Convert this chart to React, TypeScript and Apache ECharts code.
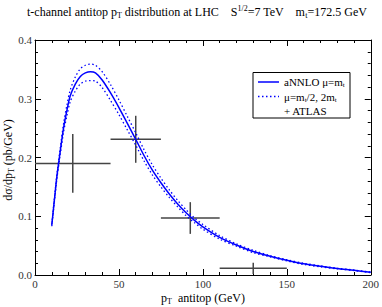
import React, { useEffect, useRef } from "react";
import * as echarts from "echarts";

// aNNLO central curve (pT in GeV, dσ/dpT in pb/GeV)
const ptGrid = [10, 12, 13, 15, 17, 19, 21, 24, 27, 30, 33, 36, 40, 45, 50, 55, 60, 65, 70, 75, 80, 85, 90, 95, 100, 110, 120, 130, 140, 150, 160, 170, 180, 190, 200];
const central = [0.085, 0.14, 0.167, 0.21, 0.25, 0.28, 0.305, 0.325, 0.338, 0.344, 0.346, 0.344, 0.332, 0.31, 0.285, 0.258, 0.231, 0.203, 0.178, 0.157, 0.138, 0.121, 0.106, 0.093, 0.082, 0.064, 0.051, 0.04, 0.032, 0.025, 0.019, 0.015, 0.011, 0.008, 0.0045];
const upper = [0.087, 0.143, 0.17, 0.215, 0.257, 0.289, 0.315, 0.337, 0.351, 0.357, 0.359, 0.357, 0.346, 0.324, 0.298, 0.27, 0.242, 0.213, 0.187, 0.165, 0.145, 0.127, 0.111, 0.097, 0.086, 0.067, 0.053, 0.042, 0.033, 0.026, 0.02, 0.0155, 0.0115, 0.0085, 0.005];
const lower = [0.083, 0.137, 0.163, 0.204, 0.243, 0.271, 0.295, 0.313, 0.325, 0.33, 0.331, 0.33, 0.319, 0.297, 0.273, 0.247, 0.221, 0.194, 0.17, 0.15, 0.132, 0.116, 0.101, 0.089, 0.078, 0.061, 0.049, 0.038, 0.031, 0.024, 0.018, 0.014, 0.0105, 0.0075, 0.004];

// ATLAS data
const atlasPt = [22.5, 60, 92.5, 130];
const atlasVal = [0.19, 0.231, 0.097, 0.0113];
const atlasBinLo = [0, 45, 75, 110];
const atlasBinHi = [45, 75, 110, 150];
const atlasErr = [0.05, 0.04, 0.027, 0.0097];

const FONT = "Liberation Serif";

export default function App() {
  const ref = useRef<HTMLDivElement>(null);
  useEffect(() => {
    if (!ref.current) return;
    const chart = echarts.init(ref.current, undefined, { renderer: "svg" });
    const pair = (ys: number[]) => ptGrid.map((x, i) => [x, ys[i]]);
    const atlasData = atlasPt.map((x, i) => [x, atlasVal[i], atlasBinLo[i], atlasBinHi[i], atlasVal[i] - atlasErr[i], atlasVal[i] + atlasErr[i]]);

    const axisCommon = {
      type: "value" as const,
      axisLine: { show: true, onZero: false, lineStyle: { color: "#000", width: 1 } },
      axisTick: { show: true, inside: true, length: 6, lineStyle: { color: "#000" } },
      minorTick: { show: true, splitNumber: 5, length: 3, lineStyle: { color: "#000" } },
      splitLine: { show: false },
      minorSplitLine: { show: false },
    };
    const labelStyle = { fontFamily: FONT, fontSize: 11, color: "#333" };

    const rich = {
      b: { fontFamily: FONT, fontSize: 12, lineHeight: 15, color: "#000", verticalAlign: "middle" },
      sub: { fontFamily: FONT, fontSize: 8, color: "#000", verticalAlign: "bottom" },
      sup: { fontFamily: FONT, fontSize: 8, color: "#000", verticalAlign: "top" },
    };
    const xrich = {
      b: { fontFamily: FONT, fontSize: 12, lineHeight: 14, color: "#000", verticalAlign: "middle" },
      sub: { fontFamily: FONT, fontSize: 8, lineHeight: 8, color: "#000", verticalAlign: "bottom" },
    };
    const lrich = {
      b: { fontFamily: FONT, fontSize: 11, lineHeight: 13, color: "#000", verticalAlign: "middle" },
      sub: { fontFamily: FONT, fontSize: 7, color: "#000", verticalAlign: "bottom" },
    };

    chart.setOption({
      animation: false,
      backgroundColor: "#fff",
      textStyle: { fontFamily: FONT },
      grid: { left: 35, right: 10, top: 40, bottom: 32 },
      xAxis: [
        { ...axisCommon, min: 0, max: 200, interval: 50, position: "bottom", axisLabel: { ...labelStyle, margin: 3 } },
        { ...axisCommon, min: 0, max: 200, interval: 50, position: "top", axisLabel: { show: false } },
      ],
      yAxis: [
        { ...axisCommon, min: 0, max: 0.4, interval: 0.1, position: "left", axisLabel: { ...labelStyle, margin: 3, formatter: (v: number) => v.toFixed(1) } },
        { ...axisCommon, min: 0, max: 0.4, interval: 0.1, position: "right", axisLabel: { show: false } },
      ],
      series: [
        {
          type: "custom",
          name: "ATLAS",
          xAxisIndex: 0,
          yAxisIndex: 0,
          encode: { x: 0, y: 1 },
          data: atlasData,
          renderItem: (params: any, api: any) => {
            const x = api.value(0), y = api.value(1);
            const l = api.coord([api.value(2), y]);
            const r = api.coord([api.value(3), y]);
            const b = api.coord([x, api.value(4)]);
            const t = api.coord([x, api.value(5)]);
            const st = { stroke: "#444", lineWidth: 1.5 };
            return {
              type: "group",
              children: [
                { type: "line", shape: { x1: l[0], y1: l[1], x2: r[0], y2: r[1] }, style: st },
                { type: "line", shape: { x1: t[0], y1: t[1], x2: b[0], y2: b[1] }, style: st },
              ],
            };
          },
          z: 1,
        },
        {
          type: "line",
          name: "upper",
          data: pair(upper),
          showSymbol: false,
          smooth: 0.3,
          lineStyle: { color: "#0000ff", width: 1.3, type: [1.5, 2.5] },
          z: 2,
        },
        {
          type: "line",
          name: "lower",
          data: pair(lower),
          showSymbol: false,
          smooth: 0.3,
          lineStyle: { color: "#0000ff", width: 1.3, type: [1.5, 2.5] },
          z: 2,
        },
        {
          type: "line",
          name: "aNNLO",
          data: pair(central),
          showSymbol: false,
          smooth: 0.3,
          lineStyle: { color: "#0000ff", width: 1.5 },
          z: 3,
        },
      ],
      graphic: [
        {
          type: "text",
          left: 27,
          top: 4,
          style: {
            text: "{b|t-channel antitop p}{sub|T}{b| distribution at LHC    S}{sup|1/2}{b|=7 TeV    m}{sub|t}{b|=172.5 GeV}",
            rich,
          },
        },
        {
          type: "text",
          x: 8,
          y: 160,
          rotation: Math.PI / 2,
          style: {
            text: "{b|dσ/dp}{sub|T}{b| (pb/GeV)}",
            rich,
            align: "center",
            verticalAlign: "middle",
          },
        },
        {
          type: "text",
          x: 203,
          y: 298,
          style: {
            text: "{b|p}{sub|T}{b|  antitop (GeV)}",
            rich: xrich,
            align: "center",
            verticalAlign: "middle",
          },
        },
        {
          type: "group",
          z: 100,
          children: [
            { type: "rect", shape: { x: 253, y: 72.5, width: 97, height: 45.5 }, style: { fill: "#fff", stroke: "#000", lineWidth: 1 }, z: 100 },
            { type: "line", shape: { x1: 258, y1: 82, x2: 279, y2: 82 }, style: { stroke: "#0000ff", lineWidth: 1.5 }, z: 101 },
            { type: "line", shape: { x1: 258, y1: 96.5, x2: 279, y2: 96.5 }, style: { stroke: "#0000ff", lineWidth: 1.3, lineDash: [1.5, 2.5] }, z: 101 },
            { type: "text", x: 284, y: 82, style: { text: "{b|aNNLO μ=m}{sub|t}", rich: lrich, verticalAlign: "middle" }, z: 101 },
            { type: "text", x: 284, y: 96.5, style: { text: "{b|μ=m}{sub|t}{b|/2, 2m}{sub|t}", rich: lrich, verticalAlign: "middle" }, z: 101 },
            { type: "text", x: 284, y: 110.5, style: { text: "{b|+ ATLAS}", rich: lrich, verticalAlign: "middle" }, z: 101 },
          ],
        },
      ],
    });
    return () => chart.dispose();
  }, []);
  return <div ref={ref} style={{ width: 382, height: 307, position: "absolute", left: 0, top: 0 }} />;
}
